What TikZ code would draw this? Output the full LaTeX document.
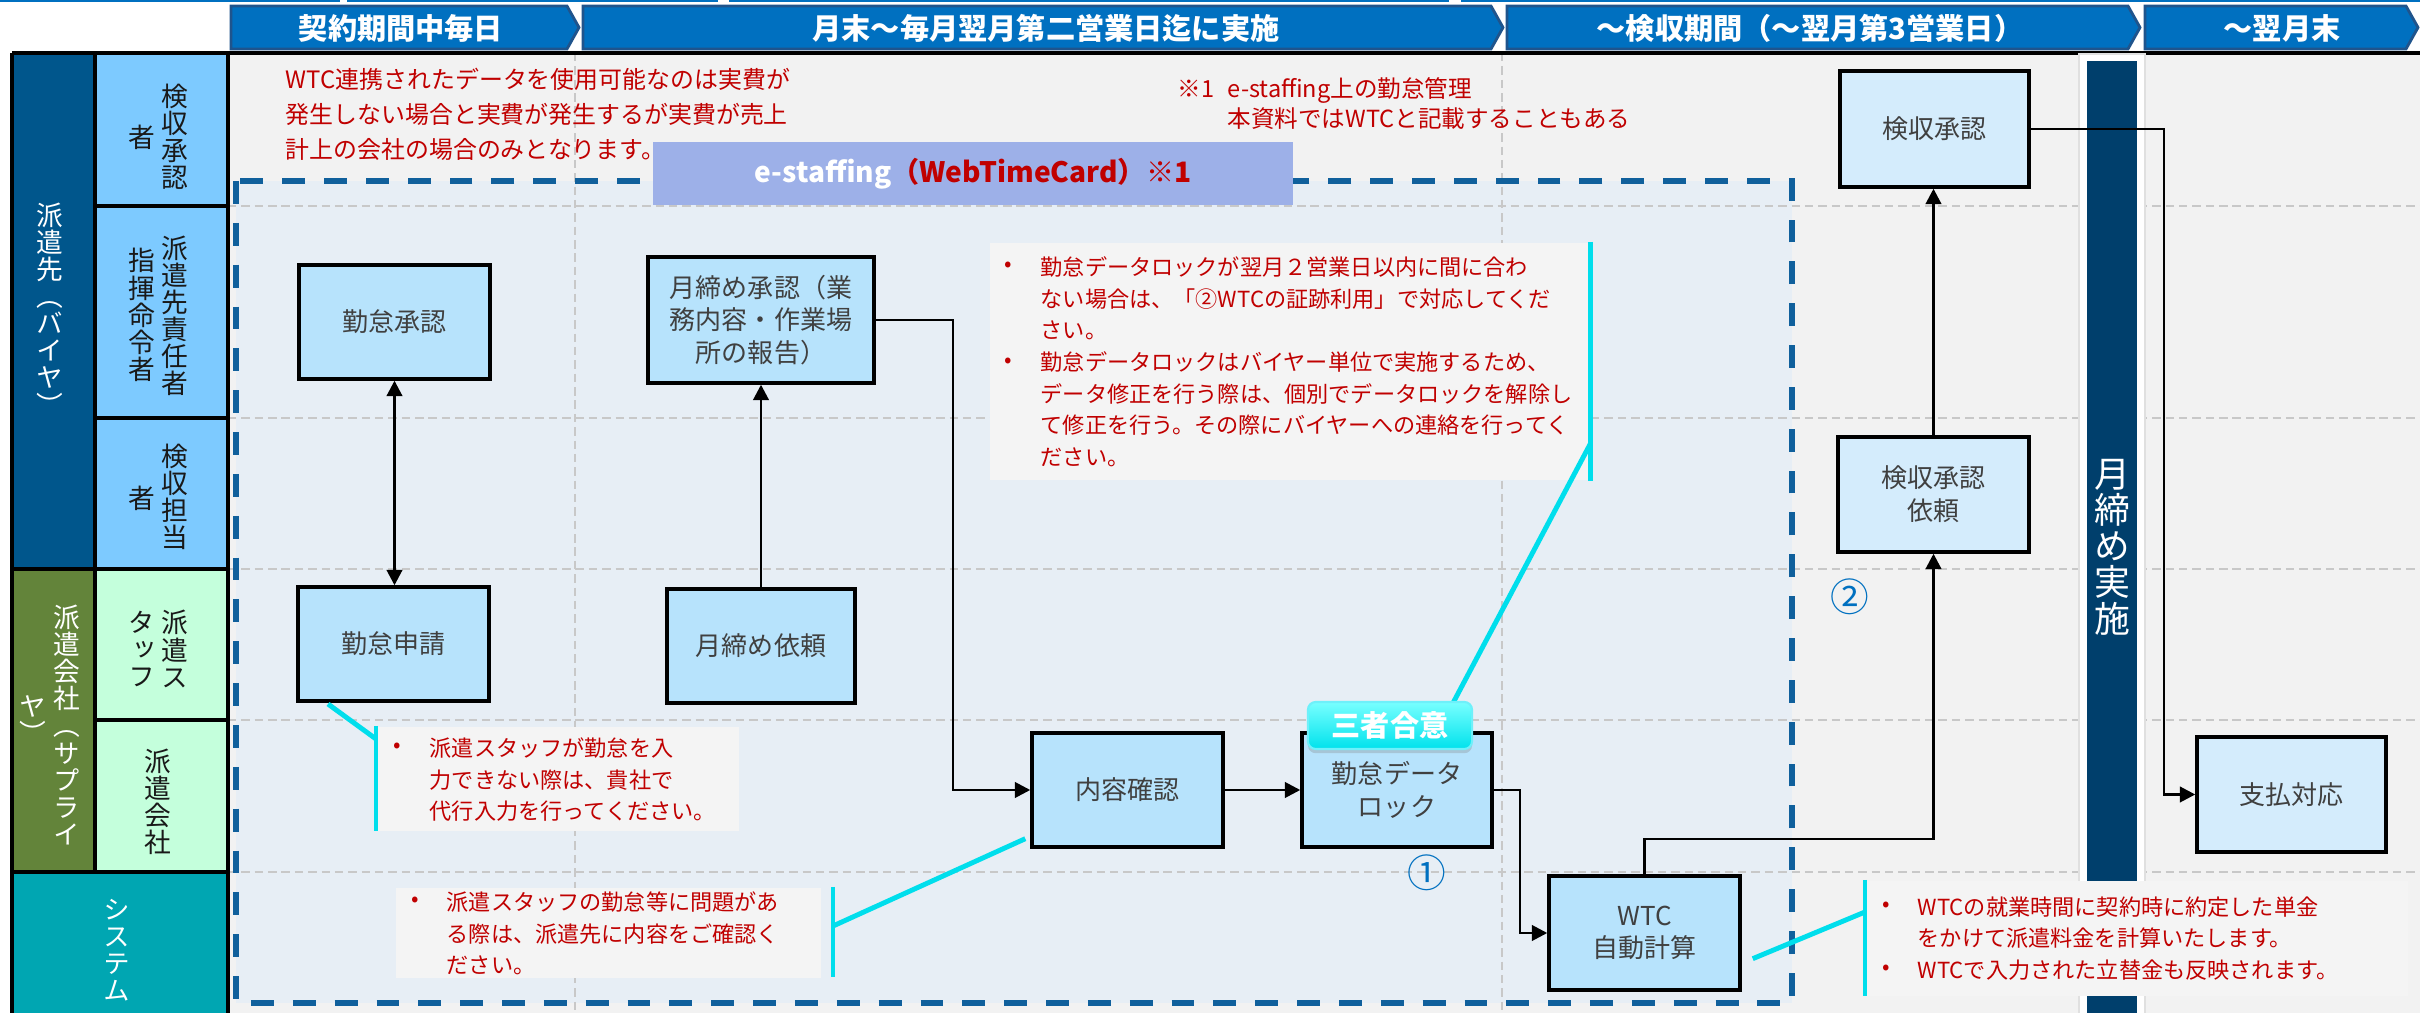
\documentclass[tikz,border=0pt]{standalone}
\usepackage{fontspec}
\setmainfont{Noto Sans CJK JP}
\newfontfamily\vfont[RawFeature=+vert]{Noto Sans CJK JP}
\usetikzlibrary{arrows.meta,shadows,calc}
\definecolor{cBuyer}{RGB}{0,86,140}
\definecolor{cLBlue}{RGB}{125,202,255}
\definecolor{cOlive}{RGB}{99,132,58}
\definecolor{cLGreen}{RGB}{196,255,220}
\definecolor{cTeal}{RGB}{0,166,178}
\definecolor{cBg}{RGB}{242,242,242}
\definecolor{cEs}{RGB}{231,238,245}
\definecolor{cEsBd}{RGB}{16,96,156}
\definecolor{cGrid}{RGB}{200,200,200}
\definecolor{cNode}{RGB}{183,227,252}
\definecolor{cNodeL}{RGB}{212,236,252}
\definecolor{cNText}{RGB}{64,64,64}
\definecolor{cRed}{RGB}{192,0,0}
\definecolor{cCyan}{RGB}{0,222,236}
\definecolor{cNavy}{RGB}{0,63,108}
\definecolor{cChev}{RGB}{0,112,192}
\definecolor{cChevBd}{RGB}{31,84,140}
\definecolor{cBanner}{RGB}{157,176,232}
\definecolor{cCallout}{RGB}{244,244,244}
\definecolor{cNum}{RGB}{0,112,192}
\definecolor{cBadgeT}{RGB}{120,255,255}
\definecolor{cBadgeB}{RGB}{0,226,236}
\definecolor{cBadgeBd}{RGB}{110,240,250}
\lineskiplimit=-30pt
\tikzset{
  chev/.style={fill=cChev, draw=cChevBd, line width=0.8pt},
  chevtext/.style={text=white, font=\fontsize{8.3pt}{10pt}\selectfont\bfseries, inner sep=0},
  lanebd/.style={draw=black, line width=0.9pt},
  vtxt/.style={font=\vfont\fontsize{7.6pt}{7.7pt}\selectfont, align=center, inner sep=0, text=black!90},
  gridl/.style={draw=cGrid, line width=0.75pt, dash pattern=on 2.4pt off 1.4pt},
  esbd/.style={draw=cEsBd, line width=1.55pt, dash pattern=on 6.5pt off 5.4pt},
  proc/.style={draw=black, line width=0.95pt, fill=cNode, text=cNText, font=\fontsize{7.4pt}{9.3pt}\selectfont, align=center, inner sep=0},
  procl/.style={proc, fill=cNodeL},
  conn/.style={draw=black, line width=0.8pt},
  cyanl/.style={draw=cCyan, line width=1.4pt},
  callbg/.style={fill=cCallout, inner sep=0, anchor=north west},
  ctext/.style={text=cRed, font=\fontsize{6.3pt}{9pt}\selectfont, align=left, inner sep=0, anchor=north west},
  bul/.style={text=cRed, font=\fontsize{6.3pt}{9pt}\selectfont, inner sep=0},
  note/.style={text=cRed, font=\fontsize{6.8pt}{10pt}\selectfont, align=left, inner sep=0, anchor=north west},
  banner/.style={fill=cBanner, minimum width=6.4cm, minimum height=0.63cm, inner sep=0, font=\fontsize{8pt}{9pt}\selectfont\bfseries},
  badge/.style={rounded corners=2.2pt, minimum width=1.64cm, minimum height=0.47cm, inner sep=0, top color=cBadgeT, bottom color=cBadgeB, draw=cBadgeBd, line width=0.6pt, text=white, font=\fontsize{8.3pt}{9pt}\selectfont\bfseries, drop shadow={opacity=0.3, shadow xshift=0pt, shadow yshift=-1.2pt}},
  num/.style={text=cNum, font=\fontsize{11pt}{12pt}\selectfont, inner sep=0}
}
\begin{document}
\lineskiplimit=-30pt
\begin{tikzpicture}[x=0.01cm,y=-0.01cm,>={Triangle[length=4.4pt,width=4.4pt]}]
\useasboundingbox (0,0) rectangle (2420,1013);
\fill[white] (0,0) rectangle (2420,1013);
% top strip
\fill[cChev] (0,0) rectangle (340,2.5);
\fill[cChev] (347,0) rectangle (718,2.5);
\fill[cChev] (729,0) rectangle (1449,2.5);
\fill[cChev] (1461,0) rectangle (2420,2.5);
% chevrons
\draw[chev] (231,6) -- (567,6) -- (579,27.5) -- (567,49) -- (231,49) -- cycle;
\draw[chev] (583,6) -- (1491,6) -- (1503,27.5) -- (1491,49) -- (583,49) -- cycle;
\draw[chev] (1507,6) -- (2128,6) -- (2140,27.5) -- (2128,49) -- (1507,49) -- cycle;
\draw[chev] (2145,6) -- (2406,6) -- (2418,27.5) -- (2406,49) -- (2145,49) -- cycle;
\node[chevtext] (h1) at (401,28) {契約期間中毎日};
\node[chevtext] (h2) at (1046,28) {月末～毎月翌月第二営業日迄に実施};
\node[chevtext] (h3) at (1810,28) {～検収期間（～翌月第3営業日）};
\node[chevtext] (h4) at (2282,28) {～翌月末};
% lane fills
\fill[cBg] (228,53) rectangle (2420,1013);
\fill[cBuyer] (12,53) rectangle (95,569);
\fill[cLBlue] (95,53) rectangle (228,569);
\fill[cOlive] (12,569) rectangle (95,872);
\fill[cLGreen] (95,569) rectangle (228,872);
\fill[cTeal] (12,872) rectangle (228,1013);
% e-staffing area
\fill[cEs] (236,181) rectangle (1792,1003);
\foreach \yy in {206,418,569,720,872} \draw[gridl] (228,\yy) -- (2420,\yy);
\foreach \xx in {575,1502} \draw[gridl] (\xx,53) -- (\xx,1013);
\draw[esbd] (236,181) rectangle (1792,1003);
\node[banner] (banner) at (973,173.5) {\textcolor{white}{e-staffing}\textcolor{cRed}{（WebTimeCard）※1}};
% lane lines
\draw[lanebd] (12,53) -- (2420,53);
\draw[lanebd] (12,53) -- (12,1013);
\draw[lanebd] (95,53) -- (95,872);
\draw[lanebd] (228,53) -- (228,1013);
\draw[lanebd] (95,206) -- (228,206);
\draw[lanebd] (95,418) -- (228,418);
\draw[lanebd] (12,569) -- (228,569);
\draw[lanebd] (95,720) -- (228,720);
\draw[lanebd] (12,872) -- (228,872);
% lane labels
\node[vtxt, text=white] (g1) at (50,309) {派\\遣\\先\\（\\バ\\イ\\ヤ\\）};
\node[vtxt, text=white] (g2a) at (67,725) {派\\遣\\会\\社\\（\\サ\\プ\\ラ\\イ};
\node[vtxt, text=white] (g2b) at (33,720) {ヤ\\）};
\node[vtxt, text=white] (g3) at (117,950) {シ\\ス\\テ\\ム};
\node[vtxt] (r1a) at (175,137) {検\\収\\承\\認};
\node[vtxt] (r1b) at (142,137) {者};
\node[vtxt] (r2a) at (175,316) {派\\遣\\先\\責\\任\\者};
\node[vtxt] (r2b) at (142,315) {指\\揮\\命\\令\\者};
\node[vtxt] (r3a) at (175,497) {検\\収\\担\\当};
\node[vtxt] (r3b) at (142,498) {者};
\node[vtxt] (r4a) at (175,649) {派\\遣\\ス};
\node[vtxt] (r4b) at (142,649) {タ\\ッ\\フ};
\node[vtxt] (r5) at (158,802) {派\\遣\\会\\社};
% month-end bar
\fill[black!12] (2078,53) rectangle (2146,1013);
\fill[white] (2080,55) rectangle (2144,1013);
\fill[cNavy] (2087,61) rectangle (2137,1013);
\node[vtxt, text=white, font=\vfont\fontsize{10.2pt}{10.3pt}\selectfont] (barlbl) at (2112,547) {月\\締\\め\\実\\施};
% top notes
\node[note] (t1) at (285,67) {WTC連携されたデータを使用可能なのは実費が\\発生しない場合と実費が発生するが実費が売上\\計上の会社の場合のみとなります。};
\node[note, anchor=west, font=\fontsize{6.7pt}{8.6pt}\selectfont] (t2a) at (1177,89) {※1};
\node[note, font=\fontsize{6.7pt}{8.6pt}\selectfont] (t2) at (1227,77) {e-staffing上の勤怠管理\\本資料ではWTCと記載することもある};
% process nodes
\node[proc, minimum width=1.91cm, minimum height=1.14cm] (appr) at (394.5,322) {勤怠承認};
\node[proc, minimum width=1.91cm, minimum height=1.14cm] (apply) at (393.5,644) {勤怠申請};
\node[proc, minimum width=2.26cm, minimum height=1.26cm] (mapp) at (761,320) {月締め承認（業\\務内容・作業場\\所の報告）};
\node[proc, minimum width=1.88cm, minimum height=1.14cm] (mreq) at (761,646) {月締め依頼};
\node[proc, minimum width=1.91cm, minimum height=1.14cm] (conf) at (1127.5,790) {内容確認};
\node[proc, minimum width=1.90cm, minimum height=1.14cm] (lock) at (1397,790) {勤怠データ\\ロック};
\node[proc, minimum width=1.91cm, minimum height=1.14cm] (wtc) at (1644.5,933) {WTC\\自動計算};
\node[procl, minimum width=1.89cm, minimum height=1.16cm] (kappr) at (1934.5,129) {検収承認};
\node[procl, minimum width=1.91cm, minimum height=1.15cm] (kreq) at (1933.5,494.5) {検収承認\\依頼};
\node[procl, minimum width=1.89cm, minimum height=1.15cm] (pay) at (2291.5,794.5) {支払対応};
% callouts
\node[callbg, minimum width=3.62cm, minimum height=1.04cm] (c1bg) at (376,726) {};
\draw[cyanl] (c1bg.north west) -- (c1bg.south west);
\coordinate (l1) at (328,704);
\draw[cyanl] ($(c1bg.north west)+(0,13)$) -- (l1);
\node[bul] (c1b) at (397,748) {•};
\node[ctext] (c1t) at (429,737) {派遣スタッフが勤怠を入\\力できない際は、貴社で\\代行入力を行ってください。};
\node[callbg, minimum width=4.25cm, minimum height=0.90cm] (c2bg) at (395,887) {};
\coordinate (b2) at (833,887);
\draw[cyanl] (b2) -- ++(0,90);
\draw[cyanl] ($(b2)+(0,39)$) -- ($(conf.south west)+(-5,-10)$);
\node[bul] (c2b) at (415,902) {•};
\node[ctext] (c2t) at (446,891) {派遣スタッフの勤怠等に問題があ\\る際は、派遣先に内容をご確認く\\ださい。};
\node[callbg, minimum width=6.0cm, minimum height=2.37cm] (c3bg) at (989,242) {};
\draw[cyanl] (c3bg.north east) -- (c3bg.south east);
\coordinate (l3) at (1453,703);
\draw[cyanl] ($(c3bg.north east)+(0,201)$) -- (l3);
\node[bul] (c3b1) at (1008,267) {•};
\node[bul] (c3b2) at (1008,363) {•};
\node[ctext] (c3t) at (1040,256) {勤怠データロックが翌月２営業日以内に間に合わ\\ない場合は、「②WTCの証跡利用」で対応してくだ\\さい。\\勤怠データロックはバイヤー単位で実施するため、\\データ修正を行う際は、個別でデータロックを解除し\\て修正を行う。その際にバイヤーへの連絡を行ってく\\ださい。};
\node[callbg, minimum width=5.42cm, minimum height=1.15cm] (c4bg) at (1865,880) {};
\draw[cyanl] (c4bg.north west) -- (c4bg.south west);
\draw[cyanl] ($(c4bg.north west)+(0,32)$) -- ($(wtc.south east)+(11,-33)$);
\node[bul] (c4b1) at (1886,907) {•};
\node[bul] (c4b2) at (1886,970) {•};
\node[ctext] (c4t) at (1917,896) {WTCの就業時間に契約時に約定した単金\\をかけて派遣料金を計算いたします。\\WTCで入力された立替金も反映されます。};
% connectors
\draw[conn,<->] (appr.south) -- (appr.south |- apply.north);
\draw[conn,->] (mreq.north) -- (mapp.south);
\coordinate (k1) at (953,320);
\draw[conn,->] (mapp.east) -- (k1) |- (conf.west);
\draw[conn,->] (conf.east) -- (lock.west);
\coordinate (k2) at (1520,790);
\draw[conn,->] (lock.east) -- (k2) |- (wtc.west);
\coordinate (k3) at (1933.5,839);
\draw[conn,->] (wtc.north) |- (k3) -- (kreq.south);
\draw[conn,->] (kreq.north) -- (kreq.north |- kappr.south);
\coordinate (k4) at (2164,129);
\draw[conn,->] (kappr.east) -- (k4) |- (pay.west);
% badge and numbers
\node[badge] (agree) at (1390,725.5) {三者合意};
\node[num] (n1) at (1427,873) {①};
\node[num] (n2) at (1850,597) {②};
\end{tikzpicture}
\end{document}
